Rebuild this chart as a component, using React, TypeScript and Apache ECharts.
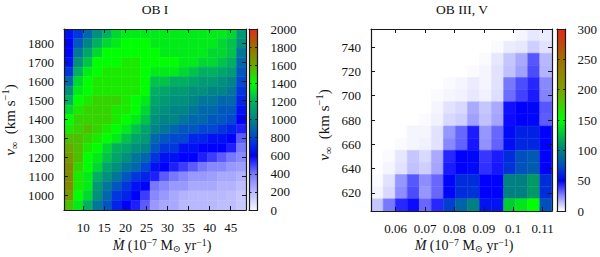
import React, { useEffect, useRef } from "react";
import * as echarts from "echarts";

const FONT = '"Liberation Serif", "DejaVu Serif", serif';

// ---------- Left panel: OB I ----------
const leftTitle = "OB I";
const leftMdot = [6.56, 8.83, 11.11, 13.38, 15.66, 17.93, 20.2, 22.48, 24.75, 27.03, 29.3, 31.58, 33.85, 36.12, 38.4, 40.67, 42.95, 45.22, 47.5];
const leftVinf = [1850, 1800, 1750, 1700, 1650, 1600, 1550, 1500, 1450, 1400, 1350, 1300, 1250, 1200, 1150, 1100, 1050, 1000, 950];
const leftCounts = [
  [650, 750, 900, 1050, 1200, 1300, 1350, 1350, 1350, 1350, 1350, 1350, 1350, 1350, 1350, 1350, 1350, 1300, 1100],
  [600, 850, 1000, 1200, 1300, 1350, 1400, 1400, 1400, 1350, 1350, 1350, 1350, 1350, 1350, 1350, 1300, 1250, 1050],
  [600, 950, 1150, 1300, 1400, 1400, 1400, 1400, 1400, 1400, 1350, 1350, 1350, 1350, 1350, 1300, 1300, 1250, 950],
  [650, 1050, 1250, 1400, 1400, 1400, 1450, 1450, 1400, 1400, 1400, 1400, 1350, 1350, 1300, 1300, 1250, 1200, 900],
  [750, 1200, 1350, 1400, 1450, 1450, 1450, 1450, 1400, 1350, 1350, 1350, 1300, 1250, 1200, 1200, 1150, 1100, 850],
  [900, 1300, 1400, 1450, 1450, 1450, 1450, 1450, 1400, 1250, 1250, 1200, 1200, 1150, 1100, 1100, 1050, 1000, 800],
  [1050, 1350, 1400, 1450, 1450, 1450, 1450, 1450, 1400, 1200, 1150, 1100, 1100, 1050, 1050, 1000, 1000, 950, 750],
  [1200, 1400, 1450, 1500, 1500, 1500, 1450, 1400, 1350, 1150, 1100, 1050, 1050, 1000, 950, 950, 900, 900, 700],
  [1300, 1450, 1500, 1500, 1500, 1450, 1450, 1400, 1300, 1100, 1050, 1000, 1000, 950, 900, 900, 850, 850, 650],
  [1400, 1500, 1500, 1500, 1500, 1450, 1400, 1350, 1250, 1050, 1000, 1000, 950, 900, 900, 850, 850, 800, 600],
  [1450, 1500, 1550, 1500, 1450, 1400, 1350, 1250, 1150, 1000, 950, 900, 850, 850, 800, 800, 750, 700, 550],
  [1550, 1550, 1500, 1450, 1400, 1350, 1250, 1150, 1100, 900, 850, 800, 800, 700, 700, 650, 650, 600, 450],
  [1600, 1550, 1450, 1400, 1300, 1200, 1150, 1050, 1000, 850, 750, 750, 650, 650, 600, 600, 600, 550, 400],
  [1650, 1550, 1400, 1350, 1250, 1150, 1050, 950, 900, 750, 650, 650, 600, 600, 550, 500, 450, 400, 350],
  [1700, 1500, 1400, 1300, 1150, 1050, 950, 900, 800, 650, 600, 550, 500, 450, 400, 350, 350, 300, 280],
  [1700, 1450, 1350, 1200, 1050, 950, 850, 750, 700, 550, 450, 400, 350, 300, 300, 280, 250, 250, 220],
  [1700, 1450, 1350, 1100, 950, 850, 750, 650, 600, 400, 350, 300, 300, 250, 250, 250, 220, 220, 180],
  [1650, 1400, 1300, 1050, 900, 750, 700, 600, 500, 350, 300, 250, 220, 200, 200, 200, 200, 180, 150],
  [1550, 1350, 1200, 950, 850, 700, 600, 550, 450, 300, 250, 250, 200, 200, 200, 200, 180, 180, 150],
];
const leftXTicks = [10, 15, 20, 25, 30, 35, 40, 45];
const leftYTicks = [1000, 1100, 1200, 1300, 1400, 1500, 1600, 1700, 1800];
const leftBarTicks = [0, 200, 400, 600, 800, 1000, 1200, 1400, 1600, 1800, 2000];
const leftPalette = ["#f6f6ff", "#b8b8ff", "#7878ff", "#0000ff", "#0048d0", "#008585", "#00b060", "#00ff00", "#68a800", "#987000", "#e82818"];

// ---------- Right panel: OB III, V ----------
const rightTitle = "OB III, V";
const rightMdot = [0.0537, 0.0578, 0.0619, 0.066, 0.0701, 0.0742, 0.0783, 0.0824, 0.0865, 0.0906, 0.0947, 0.0988, 0.1029, 0.107, 0.1111];
const rightVinf = [750, 740, 730, 720, 710, 700, 690, 680, 670, 660, 650, 640, 630, 620, 610];
const rightCounts = [
  [0, 0, 0, 0, 0, 0, 0, 0, 0, 0, 0, 0, 2, 5, 4],
  [0, 0, 0, 0, 0, 0, 0, 0, 0, 0, 1, 4, 5, 10, 6],
  [0, 0, 0, 0, 0, 0, 0, 0, 0, 1, 5, 12, 18, 34, 15],
  [0, 0, 0, 0, 0, 0, 0, 0, 1, 2, 6, 13, 20, 36, 16],
  [0, 0, 0, 0, 0, 0, 1, 2, 4, 2, 6, 28, 36, 43, 25],
  [0, 0, 0, 0, 0, 1, 2, 3, 5, 3, 7, 30, 38, 45, 26],
  [0, 0, 0, 0, 0, 2, 6, 8, 18, 12, 18, 47, 50, 52, 34],
  [0, 0, 0, 0, 1, 3, 8, 10, 20, 13, 19, 48, 50, 52, 33],
  [0, 0, 0, 2, 2, 6, 22, 31, 45, 22, 31, 53, 60, 60, 50],
  [0, 0, 1, 2, 3, 6, 25, 32, 46, 23, 32, 54, 62, 62, 50],
  [0, 1, 5, 12, 8, 18, 43, 50, 52, 40, 45, 64, 75, 80, 50],
  [0, 2, 6, 13, 10, 19, 45, 50, 53, 41, 46, 66, 76, 82, 50],
  [1, 6, 22, 34, 24, 31, 52, 64, 64, 50, 50, 100, 100, 110, 64],
  [2, 8, 24, 36, 22, 31, 52, 64, 66, 50, 50, 100, 100, 110, 64],
  [12, 28, 43, 48, 31, 43, 70, 85, 100, 56, 56, 130, 140, 150, 75],
];
const rightXTicks = [0.06, 0.07, 0.08, 0.09, 0.1, 0.11];
const rightYTicks = [620, 640, 660, 680, 700, 720, 740];
const rightBarTicks = [0, 50, 100, 150, 200, 250, 300];
const rightPalette = ["#ffffff", "#8888ff", "#0000ff", "#0050c0", "#008080", "#00c040", "#00ff00", "#40d000", "#80a000", "#908800", "#a07000", "#c04810", "#e82818"];

const xNameText = "{i|Ṁ} (10{p|−7} M{s|⊙} yr{p|−1})";
const yNameText = "{i|v}{s|∞}  (km s{p|−1})";

// ---------- helpers ----------
const INK = "#1a1a1a";

function flatten(xs: number[], ys: number[], m: number[][]) {
  const out: number[][] = [];
  ys.forEach((y, r) => xs.forEach((x, c) => out.push([x, y, m[r][c]])));
  return out;
}

function heatRender(xs: number[], ys: number[], lineColor: string) {
  const dx = Math.abs(xs[xs.length - 1] - xs[0]) / (xs.length - 1);
  const dy = Math.abs(ys[ys.length - 1] - ys[0]) / (ys.length - 1);
  return (params: any, api: any) => {
    const x = api.value(0);
    const y = api.value(1);
    const p1 = api.coord([x - dx / 2, y + dy / 2]);
    const p2 = api.coord([x + dx / 2, y - dy / 2]);
    const color = api.visual("color");
    const shape = { x: p1[0], y: p1[1], width: p2[0] - p1[0], height: p2[1] - p1[1] };
    return {
      type: "group",
      children: [
        { type: "rect", shape, style: { fill: color, stroke: color, lineWidth: 0.6 } },
        { type: "rect", shape, style: { fill: "none", stroke: api.value(2) > 0 ? lineColor : "rgba(255,255,255,0)", lineWidth: 0.5 } },
      ],
    };
  };
}

function barRender(palette: string[]) {
  return (params: any) => {
    const cs = params.coordSys;
    return {
      type: "rect",
      shape: { x: cs.x, y: cs.y, width: cs.width, height: cs.height },
      style: {
        fill: new echarts.graphic.LinearGradient(0, 1, 0, 0, palette.map((c, i) => ({ offset: i / (palette.length - 1), color: c }))),
      },
    };
  };
}

function axis(gridIndex: number, min: number, max: number, position: string, ticks: number[], labels: boolean, tickLen = 4, margin = 10) {
  return {
    type: "value",
    gridIndex,
    min,
    max,
    position,
    z: 10,
    axisLine: { show: true, onZero: false, lineStyle: { color: INK, width: 1.2 } },
    splitLine: { show: false },
    axisTick: ticks.length
      ? { show: true, inside: true, length: tickLen, customValues: ticks, lineStyle: { color: INK, width: 1 } }
      : { show: false },
    axisLabel: labels
      ? {
          show: true,
          customValues: ticks,
          fontFamily: FONT,
          fontSize: 13,
          color: "#111",
          margin,
          showMinLabel: true,
          showMaxLabel: true,
          formatter: (v: number) => String(v),
        }
      : { show: false },
  };
}

function richStyles(size: number, lh: number) {
  return {
    i: { fontStyle: "italic", fontSize: size, fontFamily: FONT, lineHeight: lh, fill: "#111" },
    p: { fontSize: size * 0.7, fontFamily: FONT, verticalAlign: "top", lineHeight: lh, fill: "#111" },
    s: { fontSize: size * 0.7, fontFamily: FONT, verticalAlign: "bottom", lineHeight: lh, fill: "#111" },
  };
}

function label(text: string, x: number, y: number, rotate: boolean, size = 14, lh = 20) {
  return {
    type: "text",
    x,
    y,
    rotation: rotate ? Math.PI / 2 : 0,
    silent: true,
    style: {
      text,
      fontFamily: FONT,
      fontSize: size,
      lineHeight: lh,
      fill: "#111",
      align: "center",
      verticalAlign: "middle",
      rich: richStyles(size, lh),
    },
  };
}

function buildOption() {
  const L = { left: 64, top: 29, width: 182, height: 181 };
  const R = { left: 371, top: 29, width: 181, height: 182 };
  const LB = { left: 249, top: 29, width: 8.5, height: 181 };
  const RB = { left: 557, top: 29, width: 9, height: 182 };

  return {
    animation: false,
    backgroundColor: "#ffffff",
    grid: [L, R, LB, RB].map((g) => ({ ...g, containLabel: false })),
    xAxis: [
      axis(0, 5.42, 48.63, "bottom", leftXTicks, true, 4, 11),
      axis(0, 5.42, 48.63, "top", leftXTicks, false),
      axis(1, 0.0516, 0.1132, "bottom", rightXTicks, true, 4, 11),
      axis(1, 0.0516, 0.1132, "top", rightXTicks, false),
      axis(2, 0, 1, "bottom", [], false),
      axis(2, 0, 1, "top", [], false),
      axis(3, 0, 1, "bottom", [], false),
      axis(3, 0, 1, "top", [], false),
    ],
    yAxis: [
      axis(0, 925, 1875, "left", leftYTicks, true, 4, 10),
      axis(0, 925, 1875, "right", leftYTicks, false),
      axis(1, 605, 755, "left", rightYTicks, true, 4, 10),
      axis(1, 605, 755, "right", rightYTicks, false),
      axis(2, 0, 2000, "right", leftBarTicks, true, 2.5, 13),
      axis(2, 0, 2000, "left", leftBarTicks, false, 2.5),
      axis(3, 0, 300, "right", rightBarTicks, true, 2.5, 12),
      axis(3, 0, 300, "left", rightBarTicks, false, 2.5),
    ],
    visualMap: [
      { type: "continuous", show: false, seriesIndex: 0, dimension: 2, min: 0, max: 2000, inRange: { color: leftPalette } },
      { type: "continuous", show: false, seriesIndex: 1, dimension: 2, min: 0, max: 300, inRange: { color: rightPalette } },
    ],
    series: [
      { type: "custom", xAxisIndex: 0, yAxisIndex: 0, data: flatten(leftMdot, leftVinf, leftCounts), renderItem: heatRender(leftMdot, leftVinf, "rgba(255,255,255,0.09)"), clip: true },
      { type: "custom", xAxisIndex: 2, yAxisIndex: 2, data: flatten(rightMdot, rightVinf, rightCounts), renderItem: heatRender(rightMdot, rightVinf, "rgba(255,255,255,0.09)"), clip: true },
      { type: "custom", xAxisIndex: 4, yAxisIndex: 4, data: [[0.5, 1000]], renderItem: barRender(leftPalette) },
      { type: "custom", xAxisIndex: 6, yAxisIndex: 6, data: [[0.5, 150]], renderItem: barRender(rightPalette) },
    ],
    graphic: [
      { type: "text", x: 155, y: 9, silent: true, style: { text: leftTitle, fontFamily: FONT, fontSize: 13.5, fill: "#111", align: "center", verticalAlign: "middle" } },
      { type: "text", x: 462, y: 9, silent: true, style: { text: rightTitle, fontFamily: FONT, fontSize: 13.5, fill: "#111", align: "center", verticalAlign: "middle" } },
      label(xNameText, 162, 245, false, 14, 16),
      label(xNameText, 464, 245, false, 14, 16),
      label(yNameText, 10, 120, true, 15, 20),
      label(yNameText, 324, 125, true, 15, 20),
    ],
  };
}

export default function App() {
  const ref = useRef<HTMLDivElement>(null);
  useEffect(() => {
    const chart = echarts.init(ref.current!, null, { renderer: "svg" });
    chart.setOption(buildOption() as any);
    return () => chart.dispose();
  }, []);
  return <div ref={ref} style={{ position: "absolute", left: 0, top: 0, width: 600, height: 257, background: "#fff" }} />;
}
